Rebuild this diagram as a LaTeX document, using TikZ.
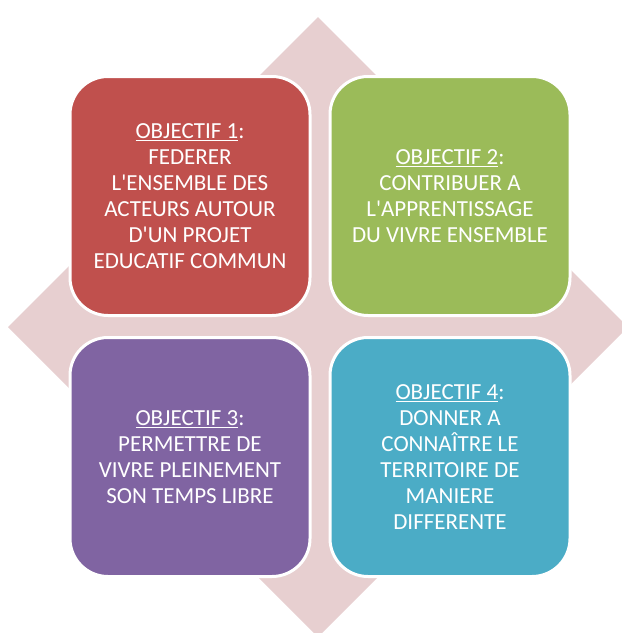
\documentclass[tikz,border=0pt]{standalone}
\usepackage{fontspec}
\setmainfont{Carlito}
\definecolor{objred}{HTML}{C0504D}
\definecolor{objgreen}{HTML}{9BBB59}
\definecolor{objpurple}{HTML}{8064A2}
\definecolor{objteal}{HTML}{4BACC6}
\definecolor{diamondpink}{HTML}{E7CFD0}
\newcommand{\apos}{\textquotesingle}
\tikzset{
  objbox/.style={draw=white, line width=3pt, rounded corners=38pt,
    minimum width=240pt, minimum height=239pt, text=white,
    align=center, font=\fontsize{23}{26}\selectfont, inner sep=0pt}
}
\begin{document}
\begin{tikzpicture}[x=1pt, y=-1pt]
  \useasboundingbox (0,0) rectangle (622,633);
  \clip (0,0) rectangle (622,633);
  % diamond behind
  \fill[diamondpink] (318,17) -- (628,327) -- (318,637) -- (8,327) -- cycle;
  % the four objectives
  \node[objbox, fill=objred] (obj1) at (190,196)
    {\underline{OBJECTIF 1}:\\FEDERER\\L\apos ENSEMBLE DES\\ACTEURS AUTOUR\\D\apos UN PROJET\\EDUCATIF COMMUN};
  \node[objbox, fill=objgreen] (obj2) at (450,196)
    {\underline{OBJECTIF 2}:\\CONTRIBUER A\\L\apos APPRENTISSAGE\\DU VIVRE ENSEMBLE};
  \node[objbox, fill=objpurple] (obj3) at (190,457)
    {\underline{OBJECTIF 3}:\\PERMETTRE DE\\VIVRE PLEINEMENT\\SON TEMPS LIBRE};
  \node[objbox, fill=objteal] (obj4) at (450,457)
    {\underline{OBJECTIF 4}:\\DONNER A\\CONNAÎTRE LE\\TERRITOIRE DE\\MANIERE\\DIFFERENTE};
\end{tikzpicture}
\end{document}
